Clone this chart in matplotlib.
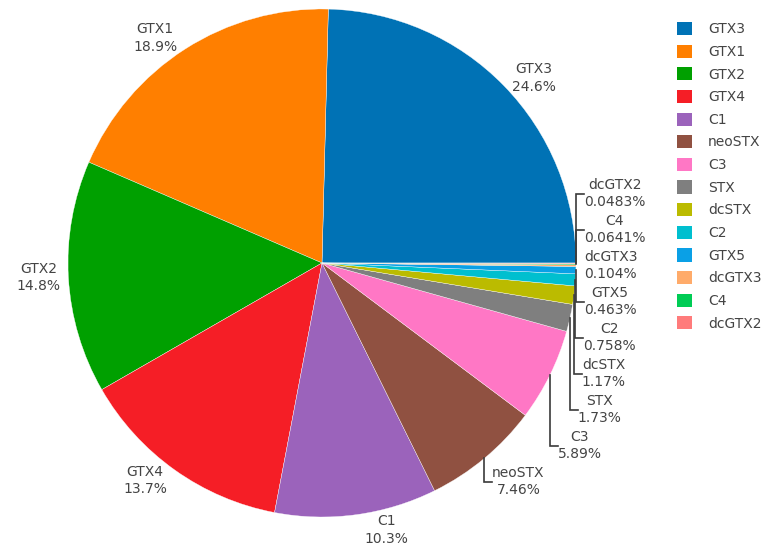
import numpy as np
import matplotlib.pyplot as plt
from matplotlib.patches import Patch

toxins = ['GTX3', 'GTX1', 'GTX2', 'GTX4', 'C1', 'neoSTX', 'C3', 'STX',
          'dcSTX', 'C2', 'GTX5', 'dcGTX3', 'C4', 'dcGTX2']
percent = [24.6, 18.9, 14.8, 13.7, 10.3, 7.46, 5.89, 1.73,
           1.17, 0.758, 0.463, 0.104, 0.0641, 0.0483]
colors = ['#0072b5', '#ff7f00', '#00a000', '#f51e26', '#9b63bb', '#905141',
          '#ff77c5', '#7f7f7f', '#bbbb00', '#00bfcf', '#0aa0e6', '#ffab6a',
          '#00cc55', '#ff7b7b']

W, H = 763, 553
txt_color = '#444444'

fig = plt.figure(figsize=(W / 100, H / 100), dpi=100)
ax = fig.add_axes([0, 0, 1, 1])

# pixel coordinates, y up
cx, cy, R = 322, 290, 254
wedges, _ = ax.pie(percent, colors=colors, startangle=0, counterclock=True,
                   center=(cx, cy), radius=R,
                   wedgeprops=dict(edgecolor='white', linewidth=0.25))
ax.set_xlim(0, W)
ax.set_ylim(0, H)
ax.set_aspect('equal')
ax.axis('off')

fig.canvas.draw()
renderer = fig.canvas.get_renderer()

# outside labels, placed like plotly does it
items = []
for name, p, w in zip(toxins, percent, wedges):
    t = ax.text(0, 0, f'{name}\n{p:.3g}%', ha='center', va='center',
                fontsize=10, color=txt_color, linespacing=1.3)
    bb = t.get_window_extent(renderer)
    tw, th = bb.width, bb.height
    mid = (w.theta1 + w.theta2) / 2
    ang = np.deg2rad(mid)
    px, py = R * np.cos(ang), R * np.sin(ang)
    dx = np.copysign(tw / 2, px)
    dy = np.copysign(th / 2, py)
    ox = dx + np.copysign(abs(dy) / 2, dx)
    oy = dy / (1 + px ** 2 / py ** 2) if abs(py) > 1e-9 else 0
    items.append(dict(t=t, tw=tw, th=th, px=px, py=py,
                      x=cx + px + ox, y=cy + py + oy, nat=cy + py + oy,
                      ang=(mid + 180) % 360 - 180))

# stack the crowded labels on the right side
step = 36
right = sorted([it for it in items if it['x'] > cx], key=lambda it: -it['ang'])
anchor = [it['t'].get_text().split('\n')[0] for it in right].index('dcGTX3')
for k in range(anchor + 1, len(right)):
    right[k]['y'] = min(right[k]['nat'], right[k - 1]['y'] - step)
for k in range(anchor - 1, -1, -1):
    right[k]['y'] = max(right[k]['nat'], right[k + 1]['y'] + step)

for it in items:
    it['t'].set_position((it['x'], it['y']))
    if abs(it['y'] - it['nat']) > 0.5:
        x0, y0 = cx + it['px'], cy + it['py']
        x_edge = it['x'] - it['tw'] / 2 if it['x'] > cx else it['x'] + it['tw'] / 2
        ax.plot([x0, x0, x_edge], [y0, it['y'], it['y']],
                color='#3a3a3a', lw=1.2, solid_joinstyle='miter')

handles = [Patch(facecolor=c, edgecolor='none') for c in colors]
fig.legend(handles, toxins, loc='upper left',
           bbox_to_anchor=(677 / W, 1 - 22 / H), frameon=False,
           fontsize=10, labelcolor=txt_color, borderpad=0, borderaxespad=0,
           handlelength=1.08, handleheight=1.08, handletextpad=1.15,
           labelspacing=0.6)

fig.savefig('out.png', dpi=100)
